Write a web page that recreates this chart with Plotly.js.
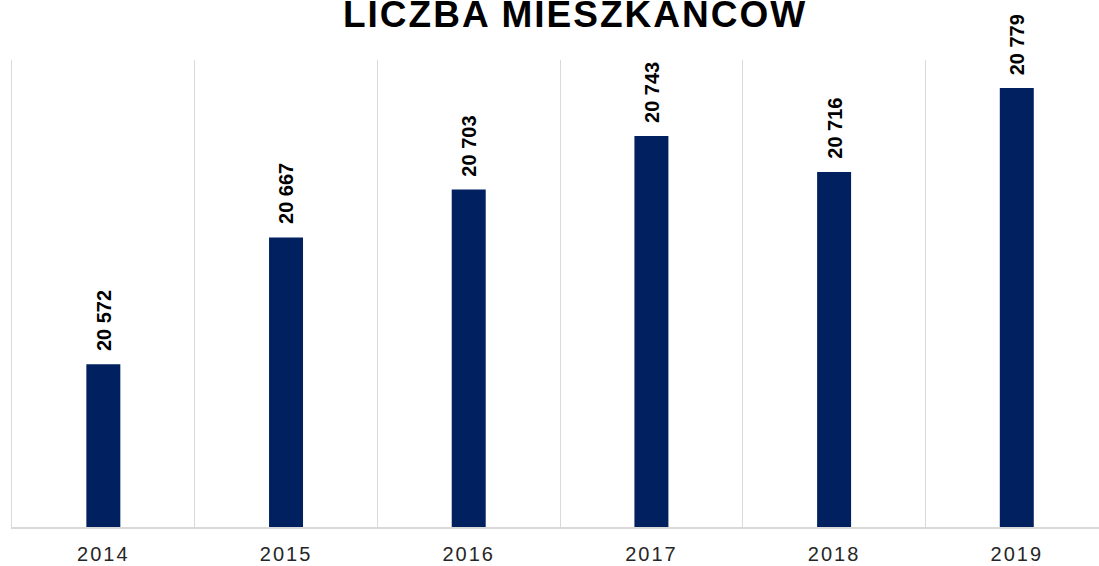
<!DOCTYPE html>
<html>
<head>
<meta charset="utf-8">
<script src="https://cdn.plot.ly/plotly-3.0.1.min.js"></script>
<style>
html,body{margin:0;padding:0;background:#fff;}
#chart{width:1099px;height:566px;}
.gtitle{letter-spacing:2px;}
.xtick text{letter-spacing:2px;}
</style>
</head>
<body>
<div id="chart"></div>
<script>
const titleText = 'LICZBA MIESZKAŃCÓW';
const years = ['2014', '2015', '2016', '2017', '2018', '2019'];
const residents = [20572, 20667, 20703, 20743, 20716, 20779];

function fmt(v) {
  return String(v).replace(/\B(?=(\d{3})+(?!\d))/g, ' ');
}

const trace = {
  type: 'bar',
  x: years,
  y: residents,
  width: 0.186,
  marker: {color: '#002060'},
  hoverinfo: 'x+y'
};

const annotations = years.map((yr, i) => ({
  x: i,
  y: residents[i],
  xref: 'x',
  yref: 'y',
  text: '<b>' + fmt(residents[i]) + '</b>',
  showarrow: false,
  textangle: -90,
  xanchor: 'center',
  yanchor: 'bottom',
  yshift: 11,
  font: {family: 'Liberation Sans, Arial, sans-serif', size: 20, color: '#000000'}
}));

const layout = {
  width: 1099,
  height: 566,
  margin: {l: 12, r: 0, t: 60, b: 39, pad: 0},
  paper_bgcolor: '#ffffff',
  plot_bgcolor: '#ffffff',
  showlegend: false,
  title: {
    text: '<b>' + titleText + '</b>',
    x: 0.518,
    xanchor: 'center',
    xref: 'paper',
    y: 0.952,
    yanchor: 'bottom',
    yref: 'container',
    font: {family: 'Liberation Sans, Arial, sans-serif', size: 37, color: '#000000'}
  },
  xaxis: {
    type: 'category',
    range: [-0.5, 5.45],
    tickson: 'boundaries',
    showgrid: true,
    gridcolor: '#d9d9d9',
    gridwidth: 1,
    showline: true,
    linecolor: '#d9d9d9',
    linewidth: 2,
    ticks: '',
    ticklabelstandoff: 8,
    tickfont: {family: 'Liberation Sans, Arial, sans-serif', size: 20, color: '#262626'},
    automargin: false,
    fixedrange: true
  },
  yaxis: {
    range: [20450, 20800],
    showgrid: false,
    zeroline: false,
    showline: true,
    linecolor: '#d9d9d9',
    linewidth: 1,
    showticklabels: false,
    ticks: '',
    automargin: false,
    fixedrange: true
  },
  annotations: annotations
};

Plotly.newPlot('chart', [trace], layout, {displayModeBar: false, responsive: false});
</script>
</body>
</html>
